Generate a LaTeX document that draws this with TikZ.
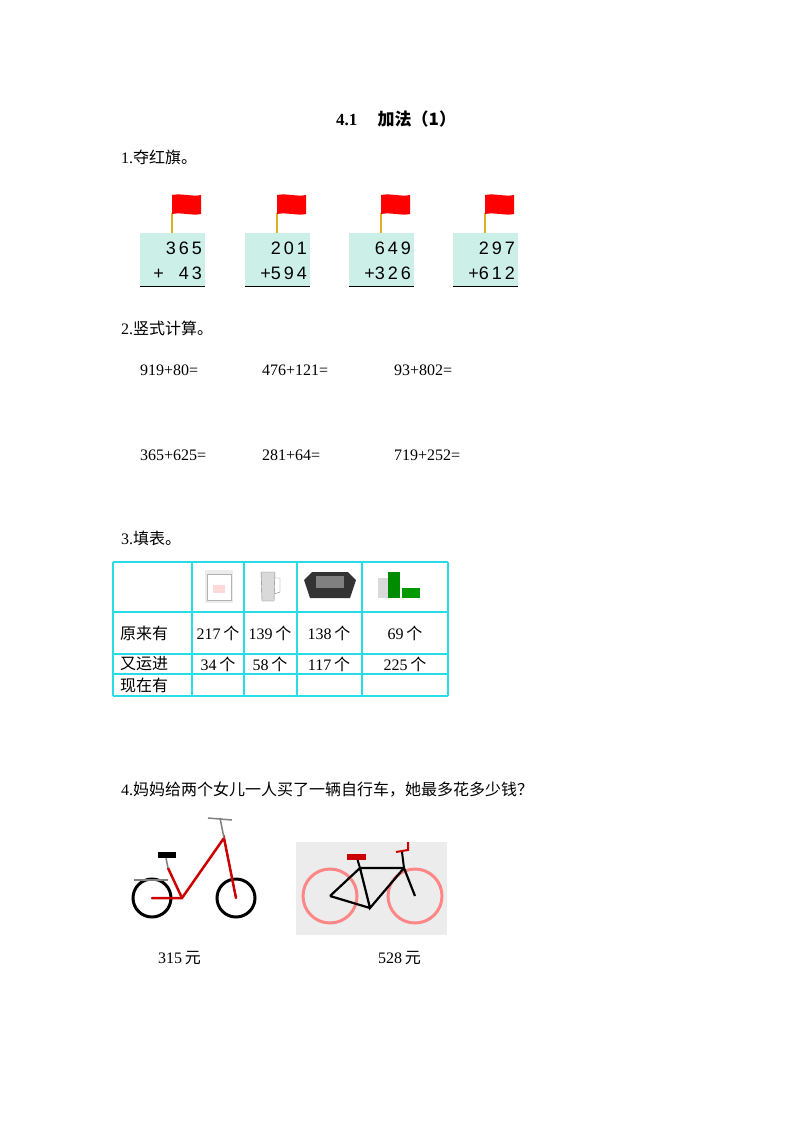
\documentclass[tikz,border=0pt]{standalone}
\usepackage{fontspec}
\setmainfont{Liberation Serif}
\newfontfamily\cjk{Noto Sans CJK SC}
\newfontfamily\sansd{Liberation Sans}
\definecolor{boxc}{RGB}{204,240,232}
\definecolor{gridc}{RGB}{40,220,230}
\begin{document}
\begin{tikzpicture}[x=1pt,y=-1pt,
  txt/.style={anchor=west,inner sep=0pt,font=\fontsize{16}{16}\selectfont},
  box/.style={fill=boxc,draw=none},
  cell/.style={inner sep=0pt,font=\fontsize{16}{16}\selectfont},
  grid/.style={draw=gridc,line width=1.2pt}]
\useasboundingbox (0,0) rectangle (800,1132);
\node[inner sep=0pt,font=\fontsize{17}{17}\selectfont\bfseries] (title) at (396,119) {4.1\hspace{1.2em}{\cjk 加法（1）}};
\node[txt] (q1) at (121,157) {1.{\cjk 夺红旗。}};
% flag boxes
\foreach \x/\a/\b [count=\i] in {140/{3\,6\,5}/{+\ \ \ 4\,3},245/{2\,0\,1}/{+5\,9\,4},349/{6\,4\,9}/{+3\,2\,6},453/{2\,9\,7}/{+6\,1\,2}}{
  \fill[box] (\x,233) rectangle ++(65,53);
  \draw[black,line width=0.8pt] (\x,286) -- ++(65,0);
  \draw[brown!60!yellow,line width=1.2pt] (\x+32,213) -- (\x+32,233);
  \fill[red] (\x+32,195) .. controls (\x+42,193) and (\x+52,197) .. (\x+61,195) -- (\x+61,214) .. controls (\x+52,216) and (\x+42,212) .. (\x+32,214) -- cycle;
  \node[anchor=east,inner sep=0pt,font=\sansd\fontsize{18}{18}\selectfont] (a\i) at (\x+62,248) {\a};
  \node[anchor=east,inner sep=0pt,font=\sansd\fontsize{18}{18}\selectfont] (b\i) at (\x+62,273) {\b};
}
\node[txt] (q2) at (121,328) {2.{\cjk 竖式计算。}};
\node[txt] (e1) at (140,370) {919+80=};
\node[txt] (e2) at (262,370) {476+121=};
\node[txt] (e3) at (394,370) {93+802=};
\node[txt] (e4) at (140,455) {365+625=};
\node[txt] (e5) at (262,455) {281+64=};
\node[txt] (e6) at (394,455) {719+252=};
\node[txt] (q3) at (121,538) {3.{\cjk 填表。}};
% table
\foreach \x in {113,192,244,297,362,448} \draw[grid] (\x,562) -- (\x,696);
\foreach \y in {562,612,654,674,696} \draw[grid] (113,\y) -- (448,\y);
% appliance sketches
\fill[gray!15] (205,570) rectangle (233,603);
\draw[gray!60,fill=white] (207,574) rectangle (231,600);
\fill[pink!60] (213,585) rectangle (225,593);
\draw[gray,fill=gray!30] (261,572) -- (275,572) -- (274,601) -- (262,601) -- cycle;
\draw[gray] (275,578) -- (280,578) -- (280,592) -- (274,594);
\fill[black!80] (304,580) -- (312,572) -- (348,572) -- (356,580) -- (350,598) -- (310,598) -- cycle;
\fill[black!50] (316,576) rectangle (344,588);
\fill[green!55!black] (388,572) rectangle (400,598);
\fill[gray!30] (378,578) rectangle (388,598);
\fill[green!60!black] (402,588) rectangle (420,598);
\foreach \r/\t/\c/\d/\e/\f [count=\i] in {
  587/{}/{}/{}/{}/{},
  633/{\cjk 原来有}/{217\,{\cjk 个}}/{139\,{\cjk 个}}/{138\,{\cjk 个}}/{69\,{\cjk 个}},
  664/{\cjk 又运进}/{34\,{\cjk 个}}/{58\,{\cjk 个}}/{117\,{\cjk 个}}/{225\,{\cjk 个}},
  685/{\cjk 现在有}/{}/{}/{}/{}}{
  \node[cell,anchor=west] (r\i a) at (120,\r) {\t};
  \node[cell] (r\i b) at (218,\r) {\c};
  \node[cell] (r\i c) at (270,\r) {\d};
  \node[cell] (r\i d) at (329,\r) {\e};
  \node[cell] (r\i e) at (405,\r) {\f};
}
\node[txt] (q4) at (121,790) {4.{\cjk 妈妈给两个女儿一人买了一辆自行车，她最多花多少钱？}};
% bike 1
\draw[black,line width=3pt] (152,898) circle (19);
\draw[black,line width=3pt] (236,898) circle (19);
\draw[red!80!black,line width=2.5pt,line cap=round] (152,898) -- (182,898) -- (224,838) -- (236,898);
\draw[red!80!black,line width=2.5pt] (168,868) -- (182,898);
\draw[gray,line width=1.5pt] (168,868) -- (166,858);
\fill[black] (158,852) rectangle (176,858);
\draw[gray,line width=1.5pt] (224,838) -- (220,818) (208,818) -- (232,820);
\draw[gray,line width=1.5pt] (134,880) -- (168,880);
% bike 2
\fill[gray!15] (296,842) rectangle (447,935);
\draw[pink!70!red,line width=3pt] (330,896) circle (27);
\draw[pink!70!red,line width=3pt] (415,896) circle (27);
\draw[black,line width=2.2pt] (330,896) -- (360,868) -- (404,868) -- (415,896) (360,868) -- (370,908) -- (404,868) (330,896) -- (370,908);
\draw[black,line width=2pt] (360,868) -- (357,858);
\fill[red!80!black] (347,854) rectangle (366,860);
\draw[black,line width=2pt] (404,868) -- (402,852);
\draw[red!80!black,line width=2pt] (396,852) -- (408,850) -- (408,842);
\node[txt] (p1) at (158,958) {315\,{\cjk 元}};
\node[txt] (p2) at (378,958) {528\,{\cjk 元}};
\end{tikzpicture}
\end{document}
